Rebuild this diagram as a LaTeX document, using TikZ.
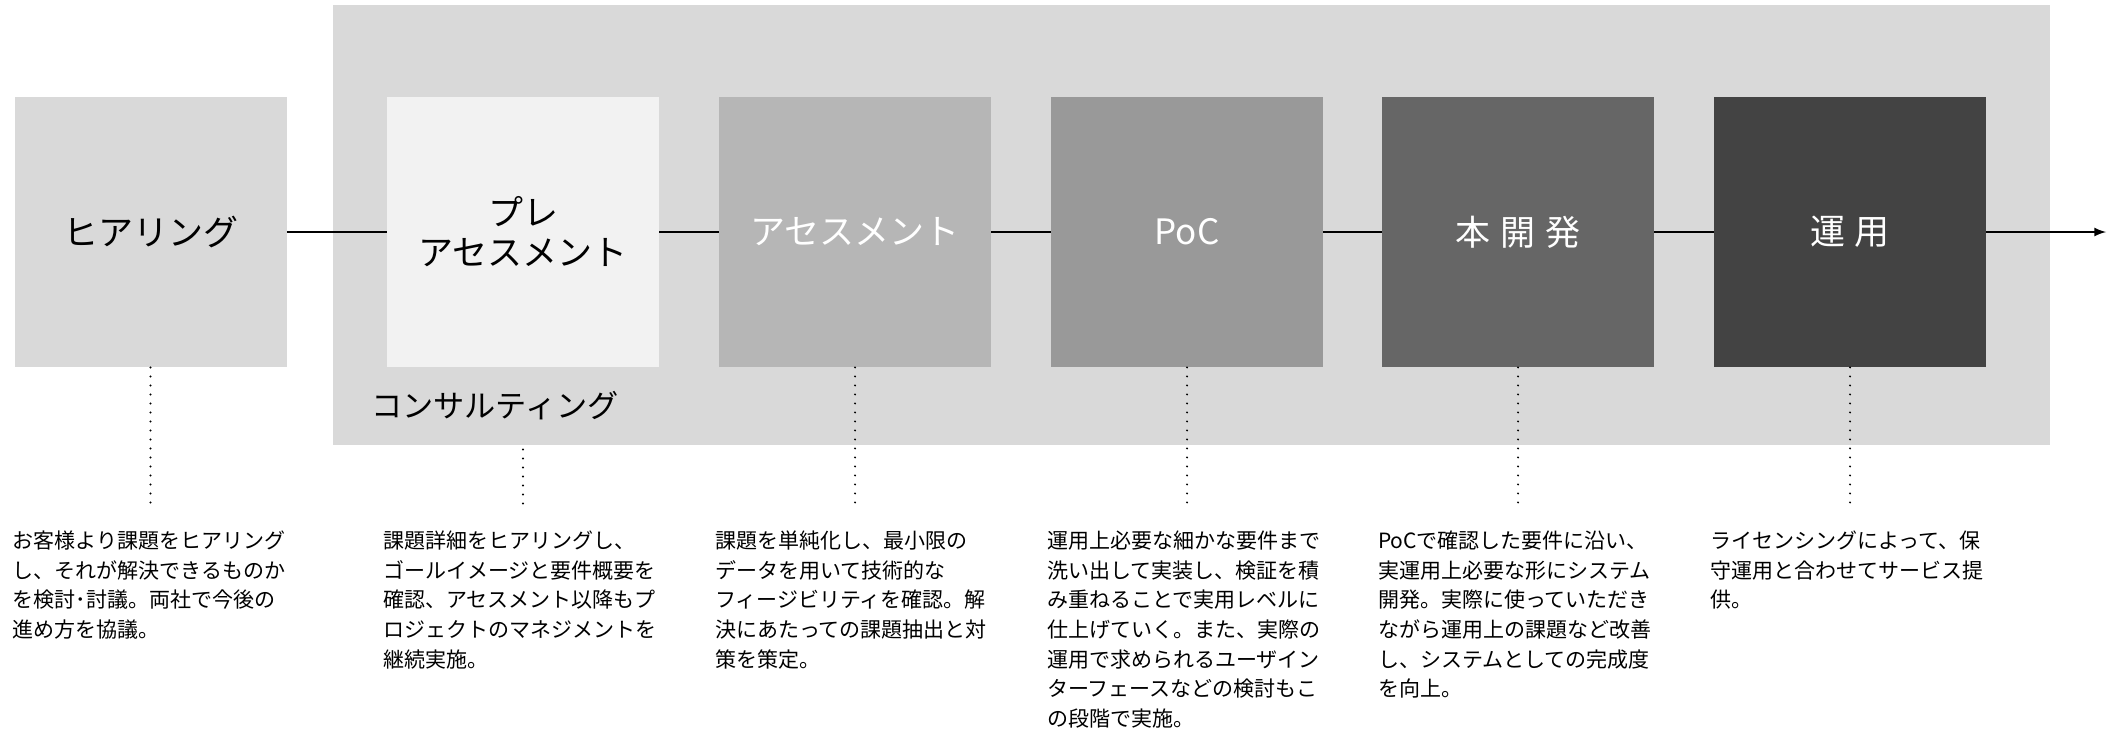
\documentclass[tikz,border=0pt]{standalone}
\usepackage{fontspec}
\newfontfamily\cjk{Noto Sans CJK JP}
\usetikzlibrary{positioning}
\definecolor{gHear}{HTML}{D9D9D9}
\definecolor{gPre}{HTML}{F2F2F2}
\definecolor{gAssess}{HTML}{B6B6B6}
\definecolor{gPoc}{HTML}{999999}
\definecolor{gDev}{HTML}{666666}
\definecolor{gOps}{HTML}{434343}
\begin{document}
\begin{tikzpicture}[x=0.5pt,y=-0.5pt,>=latex,font=\cjk,
    box/.style={minimum width=136pt,minimum height=135pt,inner sep=0pt,align=center,font=\cjk\fontsize{17.5}{20}\selectfont},
    desc/.style={inner sep=0pt,align=left,font=\cjk\fontsize{10.5}{14.85}\selectfont},
    dotline/.style={line width=1.1pt,line cap=round,dash pattern=on 0pt off 4.5pt}]
    \useasboundingbox (0,0) rectangle (2108,729);
    % consulting band
    \node[fill=gHear,minimum width=858.5pt,minimum height=220pt,inner sep=0pt] (cons) at (1191.5,225) {};
    \node[anchor=west,font=\cjk\fontsize{15.6}{18}\selectfont] (consLbl) at (364,406) {コンサルティング};
    % steps
    \node[box,fill=gHear] (hear) at (150.5,232) {ヒアリング};
    \node[box,fill=gPre] (pre) at (523,232) {プレ\\アセスメント};
    \node[box,fill=gAssess,text=white] (assess) at (855,232) {アセスメント};
    \node[box,fill=gPoc,text=white] (poc) at (1187,232) {PoC};
    \node[box,fill=gDev,text=white] (dev) at (1518,232) {本\hspace{5pt}開\hspace{5pt}発};
    \node[box,fill=gOps,text=white] (ops) at (1850,232) {運\hspace{4.5pt}用};
    \coordinate (goal) at (2106,232);
    \foreach \a/\b in {hear/pre,pre/assess,assess/poc,poc/dev,dev/ops}
        \draw[line width=1pt] (\a) -- (\b);
    \draw[->,line width=1pt] (ops) -- (goal);
    % descriptions
    \node[desc,below right=81.5pt and -1pt of hear.south west] (hearTxt) {お客様より課題をヒアリング\\し、それが解決できるものか\\を検討･討議。両社で今後の\\進め方を協議。};
    \node[desc,below right=81.5pt and -2pt of pre.south west] (preTxt) {課題詳細をヒアリングし、\\ゴールイメージと要件概要を\\確認、アセスメント以降もプ\\ロジェクトのマネジメントを\\継続実施。};
    \node[desc,below right=81.5pt and -2pt of assess.south west] (assessTxt) {課題を単純化し、最小限の\\データを用いて技術的な\\フィージビリティを確認。解\\決にあたっての課題抽出と対\\策を策定。};
    \node[desc,below right=81.5pt and -2pt of poc.south west] (pocTxt) {運用上必要な細かな要件まで\\洗い出して実装し、検証を積\\み重ねることで実用レベルに\\仕上げていく。また、実際の\\運用で求められるユーザイン\\ターフェースなどの検討もこ\\の段階で実施。};
    \node[desc,below right=81.5pt and -2pt of dev.south west] (devTxt) {PoCで確認した要件に沿い、\\実運用上必要な形にシステム\\開発。実際に使っていただき\\ながら運用上の課題など改善\\し、システムとしての完成度\\を向上。};
    \node[desc,below right=81.5pt and -2pt of ops.south west] (opsTxt) {ライセンシングによって、保\\守運用と合わせてサービス提\\供。};
    % dotted leaders
    \foreach \s in {hear,assess,poc,dev,ops}
        \draw[dotline,shorten >=12pt] (\s.south) -- (\s.south |- \s Txt.north);
    \draw[dotline,shorten >=11pt,shorten <=2pt] (cons.south -| pre) -- (pre |- preTxt.north);
\end{tikzpicture}
\end{document}
